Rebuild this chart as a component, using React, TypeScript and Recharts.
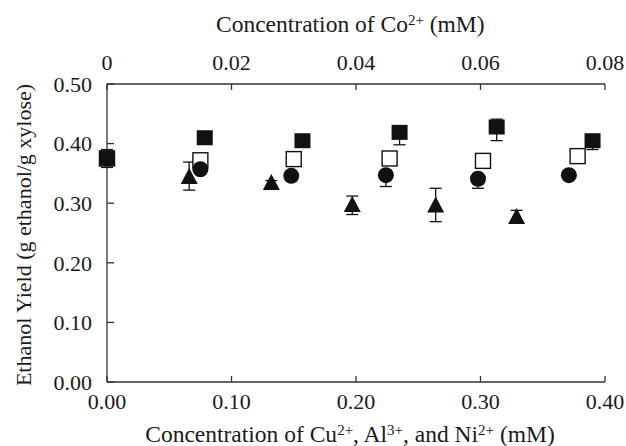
import { ScatterChart, Scatter, XAxis, YAxis, ErrorBar, Label } from 'recharts';

const FONT = "'Liberation Serif', 'Times New Roman', serif";
const INK = '#1a1a1a';
const FS = 22;
const TITLE_FS = 23.5;

// filled squares, plotted against the Co2+ axis on top (mM)
const coConc = [0, 0.0157, 0.0314, 0.047, 0.0626, 0.078];
const coYield = [0.375, 0.409, 0.404, 0.418, 0.427, 0.404];
const coErrLow = [0.015, 0, 0, 0.02, 0.022, 0.014];
const coErrHigh = [0.015, 0, 0, 0.008, 0.014, 0.005];

// open squares (bottom axis), error bars too small to show
const openSqConc = [0, 0.075, 0.15, 0.227, 0.302, 0.378];
const openSqYield = [0.375, 0.372, 0.374, 0.375, 0.371, 0.379];

// circles (bottom axis)
const circleConc = [0, 0.075, 0.148, 0.224, 0.298, 0.371];
const circleYield = [0.375, 0.357, 0.346, 0.347, 0.341, 0.347];
const circleErrLow = [0, 0, 0, 0.019, 0.016, 0];
const circleErrHigh = [0, 0, 0, 0.005, 0.005, 0];

// triangles (bottom axis)
const triangleConc = [0, 0.066, 0.132, 0.197, 0.264, 0.329];
const triangleYield = [0.375, 0.344, 0.334, 0.297, 0.296, 0.277];
const triangleErrLow = [0, 0.022, 0.005, 0.016, 0.027, 0.008];
const triangleErrHigh = [0, 0.025, 0.004, 0.015, 0.029, 0.011];

const bottomTicks = [0, 0.1, 0.2, 0.3, 0.4];
const topTicks = [0, 0.02, 0.04, 0.06, 0.08];
const yTicks = [0, 0.1, 0.2, 0.3, 0.4, 0.5];

const toRows = (xs: number[], ys: number[], lo?: number[], hi?: number[]) =>
  xs.map((x, i) => ({ x, y: ys[i], err: lo && hi ? [lo[i], hi[i]] : 0 }));

const coData = toRows(coConc, coYield, coErrLow, coErrHigh);
const openSqData = toRows(openSqConc, openSqYield);
const circleData = toRows(circleConc, circleYield, circleErrLow, circleErrHigh);
const triangleData = toRows(triangleConc, triangleYield, triangleErrLow, triangleErrHigh);

const makeTick = (fmt: (v: number) => string, anchor: string, dy: string) => (p: any) => (
  <text x={p.x} y={p.y} dy={dy} textAnchor={anchor} fontFamily={FONT} fontSize={FS} fill={INK}>
    {fmt(p.payload.value)}
  </text>
);

const fix2 = (v: number) => v.toFixed(2);
const BottomTick = makeTick(fix2, 'middle', '0.71em');
const TopTick = makeTick((v) => (v === 0 ? '0' : v.toFixed(2)), 'middle', '0');
const LeftTick = makeTick(fix2, 'end', '0.35em');

const FilledSquare = (p: any) => (
  <rect x={p.cx - 8} y={p.cy - 8} width={16} height={15} fill="#111" />
);
const OpenSquare = (p: any) => (
  <rect x={p.cx - 7.5} y={p.cy - 7.5} width={15} height={15} fill="#fff" stroke="#111" strokeWidth={1.4} />
);
const Circle = (p: any) => <circle cx={p.cx} cy={p.cy} r={8} fill="#111" />;
const Triangle = (p: any) => (
  <path d={`M${p.cx},${p.cy - 9} L${p.cx + 8.5},${p.cy + 7} L${p.cx - 8.5},${p.cy + 7} Z`} fill="#111" />
);

const sup = { dy: -7, fontSize: 15 };

const TopTitle = () => (
  <text x={216} y={32} fontFamily={FONT} fontSize={TITLE_FS} fill={INK}>
    Concentration of Co<tspan {...sup}>2+</tspan>
    <tspan dy={7}> (mM)</tspan>
  </text>
);

const BottomTitle = () => (
  <text x={350} y={442} textAnchor="middle" fontFamily={FONT} fontSize={TITLE_FS} fill={INK}>
    Concentration of Cu<tspan {...sup}>2+</tspan>
    <tspan dy={7}>, Al</tspan>
    <tspan {...sup}>3+</tspan>
    <tspan dy={7}>, and Ni</tspan>
    <tspan {...sup}>2+</tspan>
    <tspan dy={7}> (mM)</tspan>
  </text>
);

const YTitle = () => (
  <text
    x={0}
    y={0}
    transform="translate(31, 235) rotate(-90)"
    textAnchor="middle"
    fontFamily={FONT}
    fontSize={FS}
    fill={INK}
  >
    Ethanol Yield (g ethanol/g xylose)
  </text>
);

// ErrorBar width is the half-length of the cap
const errProps = { dataKey: 'err', direction: 'y' as const, width: 6, stroke: '#111', strokeWidth: 1.3 };
const axisLine = { stroke: '#333', strokeWidth: 1.3 };

export default function App() {
  return (
    <div style={{ position: 'absolute', left: 0, top: 0, background: '#fff', fontFamily: FONT }}>
      <ScatterChart width={626} height={446} margin={{ top: 0, right: 21, bottom: 0, left: 0 }}>
        <XAxis
          xAxisId="bottom"
          dataKey="x"
          type="number"
          orientation="bottom"
          domain={[0, 0.4]}
          ticks={bottomTicks}
          interval={0}
          height={64}
          tick={BottomTick}
          tickSize={-6}
          tickMargin={17}
          axisLine={axisLine}
          tickLine={axisLine}
        >
          <Label content={<BottomTitle />} />
        </XAxis>
        <XAxis
          xAxisId="top"
          dataKey="x"
          type="number"
          orientation="top"
          domain={[0, 0.08]}
          ticks={topTicks}
          interval={0}
          height={84}
          tick={TopTick}
          tickSize={-6}
          tickMargin={20}
          axisLine={axisLine}
          tickLine={axisLine}
        >
          <Label content={<TopTitle />} />
        </XAxis>
        <YAxis
          dataKey="y"
          type="number"
          domain={[0, 0.5]}
          ticks={yTicks}
          interval={0}
          width={107}
          tick={LeftTick}
          tickSize={-7}
          tickMargin={22}
          axisLine={axisLine}
          tickLine={axisLine}
        >
          <Label content={<YTitle />} />
        </YAxis>
        <Scatter xAxisId="bottom" data={openSqData} shape={OpenSquare} isAnimationActive={false} />
        <Scatter xAxisId="bottom" data={triangleData} shape={Triangle} isAnimationActive={false}>
          <ErrorBar {...errProps} />
        </Scatter>
        <Scatter xAxisId="bottom" data={circleData} shape={Circle} isAnimationActive={false}>
          <ErrorBar {...errProps} />
        </Scatter>
        <Scatter xAxisId="top" data={coData} shape={FilledSquare} isAnimationActive={false}>
          <ErrorBar {...errProps} />
        </Scatter>
      </ScatterChart>
    </div>
  );
}
